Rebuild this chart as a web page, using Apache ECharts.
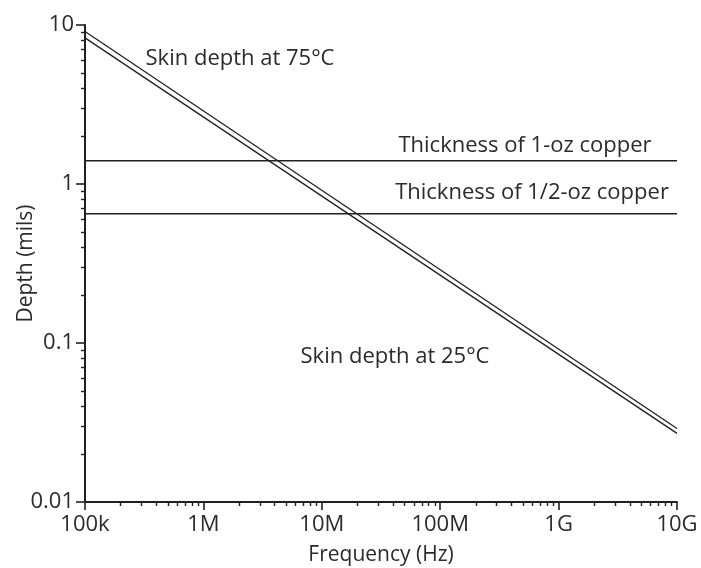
<!DOCTYPE html>
<html>
<head>
<meta charset="utf-8">
<script src="https://cdn.jsdelivr.net/npm/echarts@6/dist/echarts.min.js"></script>
<style>
html,body{margin:0;padding:0;background:#fff;}
#chart{width:701px;height:568px;}
</style>
</head>
<body>
<div id="chart"></div>
<script>
// Data
var xTickValues = [1e5, 1e6, 1e7, 1e8, 1e9, 1e10];
var xTickLabels = ['100k', '1M', '10M', '100M', '1G', '10G'];
var yTickValues = [0.01, 0.1, 1, 10];
var yTickLabels = ['0.01', '0.1', '1', '10'];
var freqEnds = [1e5, 1e10];
var skin75 = [9.1, 0.029];
var skin25 = [8.3, 0.027];
var oneOz = [1.4, 1.4];
var halfOz = [0.65, 0.65];
var labelTexts = ['Skin depth at 75\u00B0C', 'Thickness of 1-oz copper', 'Thickness of 1/2-oz copper', 'Skin depth at 25\u00B0C'];

function minorTicks(lo, hi) {
  var out = [];
  for (var e = lo; e < hi; e++) {
    for (var m = 2; m <= 9; m++) out.push(m * Math.pow(10, e));
  }
  return out;
}
function pairs(xs, ys) { return xs.map(function (x, i) { return [x, ys[i]]; }); }

var FONT = 'Open Sans';
var INK = '#231f20';
var TXT = '#2b2b2b';
var FS = 22;

var chart = echarts.init(document.getElementById('chart'), null, {renderer: 'canvas'});

function lineSeries(name, ys) {
  return {
    name: name, type: 'line', data: pairs(freqEnds, ys), symbol: 'none',
    lineStyle: {color: INK, width: 1.3}, silent: true, animation: false
  };
}
function note(text, x, y) {
  return {type: 'text', x: x, y: y, style: {text: text, fill: TXT, font: FS + 'px "Open Sans"', align: 'center', verticalAlign: 'middle'}};
}

var option = {
  animation: false,
  backgroundColor: '#fff',
  grid: {left: 85, right: 24, top: 25, bottom: 66, containLabel: false, outerBoundsMode: 'none'},
  xAxis: [{
    type: 'log', logBase: 10, min: 1e5, max: 1e10,
    name: 'Frequency (Hz)', nameLocation: 'middle', nameGap: 43, nameMoveOverlap: false,
    nameTextStyle: {fontFamily: FONT, fontSize: 21, color: TXT},
    axisLine: {show: true, lineStyle: {color: INK, width: 2}},
    axisTick: {show: true, length: 8, customValues: xTickValues, lineStyle: {color: INK, width: 1.6}},
    axisLabel: {
      show: true, margin: 12, customValues: xTickValues,
      fontFamily: FONT, fontSize: FS, color: TXT,
      formatter: function (v) { return xTickLabels[Math.round(Math.log10(v)) - 5]; }
    },
    splitLine: {show: false}, minorTick: {show: false}
  }, {
    type: 'log', logBase: 10, min: 1e5, max: 1e10, position: 'bottom',
    axisLine: {show: false},
    axisTick: {show: true, length: 4, customValues: minorTicks(5, 10), lineStyle: {color: INK, width: 1.4}},
    axisLabel: {show: false}, splitLine: {show: false}
  }],
  yAxis: [{
    type: 'log', logBase: 10, min: 0.01, max: 10,
    name: 'Depth (mils)', nameLocation: 'middle', nameGap: 48, nameMoveOverlap: false,
    nameTextStyle: {fontFamily: FONT, fontSize: 21, color: TXT},
    axisLine: {show: true, lineStyle: {color: INK, width: 2}},
    axisTick: {show: true, length: 9, customValues: yTickValues, lineStyle: {color: INK, width: 1.6}},
    axisLabel: {
      show: true, margin: 11, customValues: yTickValues,
      fontFamily: FONT, fontSize: FS, color: TXT,
      formatter: function (v) { return yTickLabels[Math.round(Math.log10(v)) + 2]; }
    },
    splitLine: {show: false}
  }, {
    type: 'log', logBase: 10, min: 0.01, max: 10, position: 'left',
    axisLine: {show: false},
    axisTick: {show: true, length: 4, customValues: minorTicks(-2, 1), lineStyle: {color: INK, width: 1.4}},
    axisLabel: {show: false}, splitLine: {show: false}
  }],
  series: [
    lineSeries('Skin depth at 75°C', skin75),
    lineSeries('Skin depth at 25°C', skin25),
    lineSeries('Thickness of 1-oz copper', oneOz),
    lineSeries('Thickness of 1/2-oz copper', halfOz)
  ],
  graphic: [
    note(labelTexts[0], 240, 59),
    note(labelTexts[1], 525, 146),
    note(labelTexts[2], 532, 193),
    note(labelTexts[3], 395, 357)
  ]
};
chart.setOption(option);
</script>
</body>
</html>
